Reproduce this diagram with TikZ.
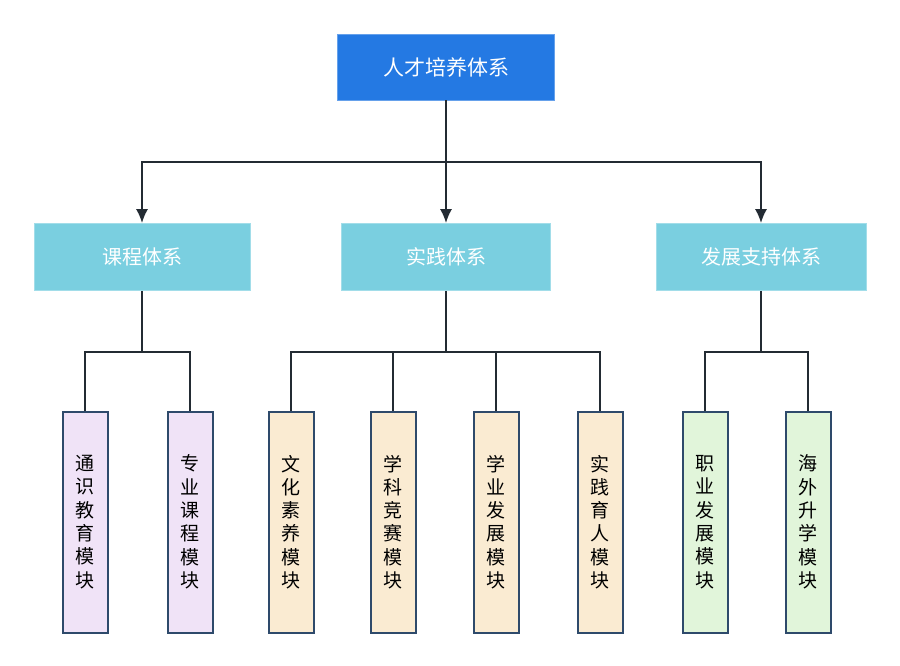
\documentclass[tikz,border=0pt]{standalone}
\usepackage{fontspec}
\setmainfont{Noto Sans CJK SC}
\usetikzlibrary{arrows.meta,positioning}
\definecolor{rootblue}{RGB}{36,121,227}
\definecolor{midcyan}{RGB}{122,207,224}
\definecolor{leafpurple}{RGB}{240,227,247}
\definecolor{leaforange}{RGB}{250,235,210}
\definecolor{leafgreen}{RGB}{225,245,218}
\definecolor{edgeblue}{RGB}{46,74,107}
\definecolor{linedark}{RGB}{35,43,51}

\begin{document}
\begin{tikzpicture}[x=1pt, y=-1pt,
  rootnode/.style={draw=rootblue!70!white, line width=0.6pt, fill=rootblue, text=white, rectangle, minimum width=217pt, minimum height=66pt, font=\fontsize{21}{25}\selectfont},
  system/.style={draw=midcyan!70!white, line width=0.6pt, fill=midcyan, text=white, rectangle, minimum height=67pt, font=\fontsize{20}{24}\selectfont},
  module/.style={draw=edgeblue, line width=2pt, rectangle, minimum width=45pt, minimum height=221pt, align=center, inner sep=0pt, font=\fontsize{19}{23.3}\selectfont},
  flow/.style={-{Latex[length=14pt, width=12pt]}, draw=linedark, line width=2pt},
  link/.style={draw=linedark, line width=1.6pt}
]
\useasboundingbox (0,0) rectangle (900,666);

\node[rootnode] (root) at (446,67) {人才培养体系};

\node[system, minimum width=216pt] (course) at (142,257) {课程体系};
\node[system, minimum width=209pt] (practice) at (446,257) {实践体系};
\node[system, minimum width=210pt] (support) at (761,257) {发展支持体系};

\node[module, fill=leafpurple] (general) at (85,522) {通\\识\\教\\育\\模\\块};
\node[module, fill=leafpurple] (major) at (190,522) {专\\业\\课\\程\\模\\块};
\node[module, fill=leaforange] (culture) at (291,522) {文\\化\\素\\养\\模\\块};
\node[module, fill=leaforange] (contest) at (393,522) {学\\科\\竞\\赛\\模\\块};
\node[module, fill=leaforange] (study) at (496,522) {学\\业\\发\\展\\模\\块};
\node[module, fill=leaforange] (prac) at (600,522) {实\\践\\育\\人\\模\\块};
\node[module, fill=leafgreen] (career) at (705,522) {职\\业\\发\\展\\模\\块};
\node[module, fill=leafgreen] (abroad) at (808,522) {海\\外\\升\\学\\模\\块};

\coordinate (top) at (446,162);
\coordinate (bc) at (142,352);
\coordinate (bp) at (446,352);
\coordinate (bs) at (761,352);

% Connections
\draw[flow] (root.south) -- (top) -| (course.north);
\draw[flow] (root.south) -- (practice.north);
\draw[flow] (root.south) -- (top) -| (support.north);

\draw[link] (course.south) -- (bc) -| (general.north);
\draw[link] (bc) -| (major.north);
\draw[link] (practice.south) -- (bp) -| (culture.north);
\draw[link] (bp) -| (contest.north);
\draw[link] (bp) -| (study.north);
\draw[link] (bp) -| (prac.north);
\draw[link] (support.south) -- (bs) -| (career.north);
\draw[link] (bs) -| (abroad.north);

\end{tikzpicture}
\end{document}
